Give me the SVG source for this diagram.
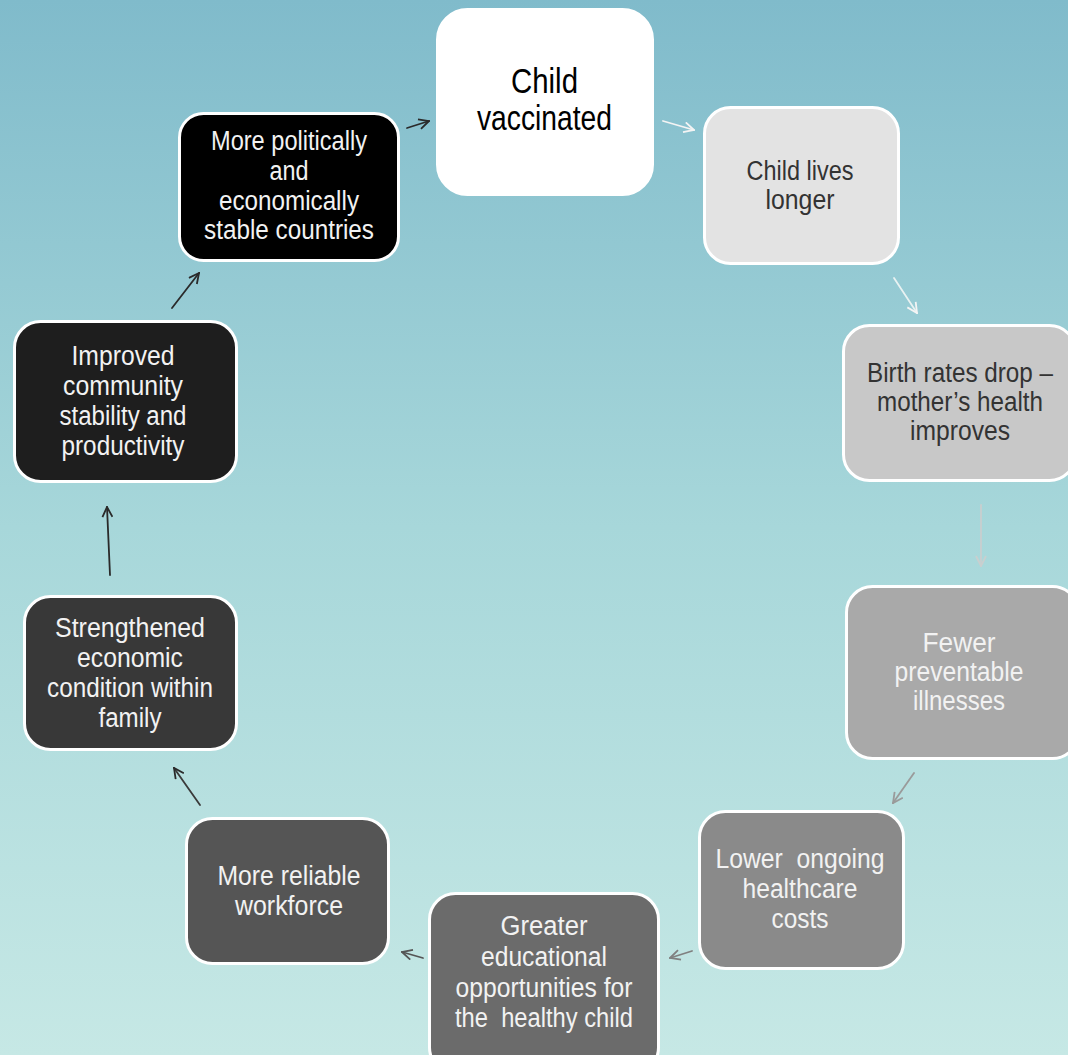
<svg xmlns="http://www.w3.org/2000/svg" width="1068" height="1055" viewBox="0 0 1068 1055">
<defs>
<linearGradient id="bg" x1="0" y1="0" x2="0" y2="1">
<stop offset="0" stop-color="#80bbcb"/>
<stop offset="0.5" stop-color="#a7d7da"/>
<stop offset="1" stop-color="#c6e8e5"/>
</linearGradient>
<marker id="aWhite" viewBox="0 0 12 12" refX="11" refY="6" markerWidth="12" markerHeight="12" markerUnits="userSpaceOnUse" orient="auto"><path d="M1,1 L11,6 L1,11" fill="none" stroke="#f4f4f4" stroke-width="1.8"/></marker>
<marker id="aLight" viewBox="0 0 12 12" refX="11" refY="6" markerWidth="12" markerHeight="12" markerUnits="userSpaceOnUse" orient="auto"><path d="M1,1 L11,6 L1,11" fill="none" stroke="#c9cfcf" stroke-width="1.8"/></marker>
<marker id="aMid" viewBox="0 0 12 12" refX="11" refY="6" markerWidth="12" markerHeight="12" markerUnits="userSpaceOnUse" orient="auto"><path d="M1,1 L11,6 L1,11" fill="none" stroke="#9a9a9a" stroke-width="1.8"/></marker>
<marker id="aGray" viewBox="0 0 12 12" refX="11" refY="6" markerWidth="12" markerHeight="12" markerUnits="userSpaceOnUse" orient="auto"><path d="M1,1 L11,6 L1,11" fill="none" stroke="#808080" stroke-width="1.8"/></marker>
<marker id="aDim" viewBox="0 0 12 12" refX="11" refY="6" markerWidth="12" markerHeight="12" markerUnits="userSpaceOnUse" orient="auto"><path d="M1,1 L11,6 L1,11" fill="none" stroke="#555" stroke-width="1.8"/></marker>
<marker id="aDark" viewBox="0 0 12 12" refX="11" refY="6" markerWidth="12" markerHeight="12" markerUnits="userSpaceOnUse" orient="auto"><path d="M1,1 L11,6 L1,11" fill="none" stroke="#2a2a2a" stroke-width="1.8"/></marker>
</defs>
<style>
.box{stroke:#ffffff;stroke-width:3}
.t{font-family:"Liberation Sans",Arial,sans-serif;font-size:27px;text-anchor:middle;white-space:pre}
.big{font-size:35px}
.dk{fill:#333333}
.lt{fill:#f2f2f2}
.c{fill:none;stroke-width:1.8;stroke-linecap:round}
</style>
<rect x="0" y="0" width="1068" height="1055" fill="url(#bg)"/>

<g id="connectors">
<path class="c" d="M407,128 L429,121" stroke="#2a2a2a" marker-end="url(#aDark)"/>
<path class="c" d="M663,121 L694,130" stroke="#f4f4f4" marker-end="url(#aWhite)"/>
<path class="c" d="M894,278 L917,313" stroke="#e8f2f2" marker-end="url(#aWhite)"/>
<path class="c" d="M981,505 L981,566" stroke="#c9cfcf" marker-end="url(#aLight)"/>
<path class="c" d="M914,773 L893,803" stroke="#9a9a9a" marker-end="url(#aMid)"/>
<path class="c" d="M692,951 L670,958" stroke="#808080" marker-end="url(#aGray)"/>
<path class="c" d="M423,958 L402,952" stroke="#555" marker-end="url(#aDim)"/>
<path class="c" d="M200,805 L174,768" stroke="#3a3a3a" marker-end="url(#aDark)"/>
<path class="c" d="M110,575 L107,507" stroke="#2a2a2a" marker-end="url(#aDark)"/>
<path class="c" d="M172,308 L199,273" stroke="#2a2a2a" marker-end="url(#aDark)"/>
</g>

<g id="n1">
<rect class="box" x="437.5" y="9.5" width="215" height="185" rx="30" fill="#ffffff"/>
<text class="t big" fill="#000"><tspan x="544.5" y="93" textLength="67" lengthAdjust="spacingAndGlyphs">Child</tspan><tspan x="544.5" y="130" textLength="135" lengthAdjust="spacingAndGlyphs">vaccinated</tspan></text>
</g>
<g id="n2">
<rect class="box" x="704.5" y="107.5" width="194" height="156" rx="26" fill="#e3e3e3"/>
<text class="t dk"><tspan x="800" y="180" textLength="107" lengthAdjust="spacingAndGlyphs">Child lives</tspan><tspan x="800" y="209" textLength="69" lengthAdjust="spacingAndGlyphs">longer</tspan></text>
</g>
<g id="n3">
<rect class="box" x="843.5" y="325.5" width="232" height="155" rx="26" fill="#c8c8c8"/>
<text class="t dk"><tspan x="960" y="382" textLength="186" lengthAdjust="spacingAndGlyphs">Birth rates drop –</tspan><tspan x="960" y="411" textLength="166" lengthAdjust="spacingAndGlyphs">mother’s health</tspan><tspan x="960" y="440" textLength="100" lengthAdjust="spacingAndGlyphs">improves</tspan></text>
</g>
<g id="n4">
<rect class="box" x="846.5" y="586.5" width="232" height="172" rx="26" fill="#a9a9a9"/>
<text class="t lt"><tspan x="959" y="652" textLength="73" lengthAdjust="spacingAndGlyphs">Fewer</tspan><tspan x="959" y="681" textLength="129" lengthAdjust="spacingAndGlyphs">preventable</tspan><tspan x="959" y="710" textLength="92" lengthAdjust="spacingAndGlyphs">illnesses</tspan></text>
</g>
<g id="n5">
<rect class="box" x="699.5" y="811.5" width="204" height="157" rx="26" fill="#8a8a8a"/>
<text class="t lt" xml:space="preserve"><tspan x="800" y="868" textLength="169" lengthAdjust="spacingAndGlyphs">Lower  ongoing</tspan><tspan x="800" y="898" textLength="115" lengthAdjust="spacingAndGlyphs">healthcare</tspan><tspan x="800" y="928" textLength="57" lengthAdjust="spacingAndGlyphs">costs</tspan></text>
</g>
<g id="n6">
<rect class="box" x="429.5" y="893.5" width="229" height="180" rx="26" fill="#6b6b6b"/>
<text class="t lt" xml:space="preserve"><tspan x="544" y="935" textLength="87" lengthAdjust="spacingAndGlyphs">Greater</tspan><tspan x="544" y="966" textLength="126" lengthAdjust="spacingAndGlyphs">educational</tspan><tspan x="544" y="997" textLength="177" lengthAdjust="spacingAndGlyphs">opportunities for</tspan><tspan x="544" y="1027" textLength="178" lengthAdjust="spacingAndGlyphs">the  healthy child</tspan></text>
</g>
<g id="n7">
<rect class="box" x="186.5" y="818.5" width="202" height="145" rx="26" fill="#555555"/>
<text class="t lt"><tspan x="289" y="885" textLength="143" lengthAdjust="spacingAndGlyphs">More reliable</tspan><tspan x="289" y="915" textLength="108" lengthAdjust="spacingAndGlyphs">workforce</tspan></text>
</g>
<g id="n8">
<rect class="box" x="24.5" y="596.5" width="212" height="153" rx="26" fill="#383838"/>
<text class="t lt"><tspan x="130" y="637" textLength="150" lengthAdjust="spacingAndGlyphs">Strengthened</tspan><tspan x="130" y="667" textLength="106" lengthAdjust="spacingAndGlyphs">economic</tspan><tspan x="130" y="697" textLength="166" lengthAdjust="spacingAndGlyphs">condition within</tspan><tspan x="130" y="727" textLength="63" lengthAdjust="spacingAndGlyphs">family</tspan></text>
</g>
<g id="n9">
<rect class="box" x="14.5" y="321.5" width="222" height="160" rx="26" fill="#1e1e1e"/>
<text class="t lt"><tspan x="123" y="365" textLength="103" lengthAdjust="spacingAndGlyphs">Improved</tspan><tspan x="123" y="395" textLength="120" lengthAdjust="spacingAndGlyphs">community</tspan><tspan x="123" y="425" textLength="127" lengthAdjust="spacingAndGlyphs">stability and</tspan><tspan x="123" y="455" textLength="123" lengthAdjust="spacingAndGlyphs">productivity</tspan></text>
</g>
<g id="n10">
<rect class="box" x="179.5" y="113.5" width="219" height="147" rx="24" fill="#000000"/>
<text class="t lt"><tspan x="289" y="150" textLength="156" lengthAdjust="spacingAndGlyphs">More politically</tspan><tspan x="289" y="180" textLength="39" lengthAdjust="spacingAndGlyphs">and</tspan><tspan x="289" y="210" textLength="140" lengthAdjust="spacingAndGlyphs">economically</tspan><tspan x="289" y="239" textLength="170" lengthAdjust="spacingAndGlyphs">stable countries</tspan></text>
</g>
</svg>
